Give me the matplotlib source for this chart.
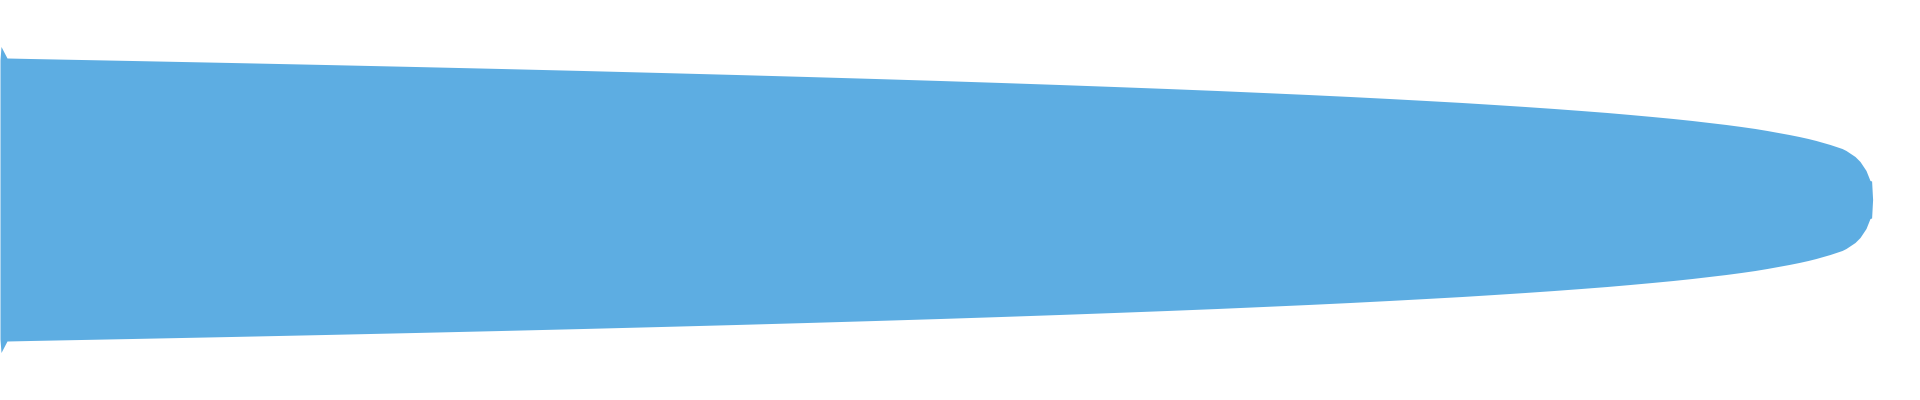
import numpy as np
import matplotlib
matplotlib.use("Agg")
import matplotlib.pyplot as plt

# 形状数据：位置 和 对应的半宽（上下对称）
positions = [
    0, 1, 7, 30, 132, 231, 325, 415, 501, 583, 661, 736, 807, 875, 940,
    1001, 1059, 1114, 1167, 1217, 1263, 1308, 1350, 1389, 1426, 1462, 1494,
    1525, 1554, 1581, 1607, 1630, 1652, 1673, 1692, 1709, 1726, 1741, 1755,
    1767, 1778, 1789, 1799, 1808, 1816, 1823, 1830, 1836, 1842, 1846, 1849,
    1852, 1855, 1857, 1860, 1862, 1864, 1866, 1868, 1870, 1871.6, 1872.6,
]
half_width = [
    139.5, 153, 141.5, 141, 139, 137, 135, 133, 131, 129, 127, 125, 123, 121, 119,
    117, 115, 113, 111, 109, 107, 105, 103, 101, 99, 97, 95,
    93, 91, 89, 87, 85, 83, 81, 79, 77, 75, 73, 71,
    69, 67, 65, 63, 61, 59, 57, 55, 53, 51, 49, 47,
    45, 43, 41, 38, 35, 32, 29, 24, 19, 18.5, 0,
]

fill_color = '#5DADE2'

x = np.array(positions)
h = np.array(half_width)

fig = plt.figure(figsize=(19.2, 4), dpi=100)
ax = fig.add_axes([0, 0, 1, 1])

# 对称填充
ax.fill_between(x, -h, h, color=fill_color, linewidth=0, antialiased=False)

ax.set_xlim(0, 1920)
ax.set_ylim(-200.5, 199.5)
ax.axis('off')

plt.savefig('out.png', dpi=100, facecolor='white')
